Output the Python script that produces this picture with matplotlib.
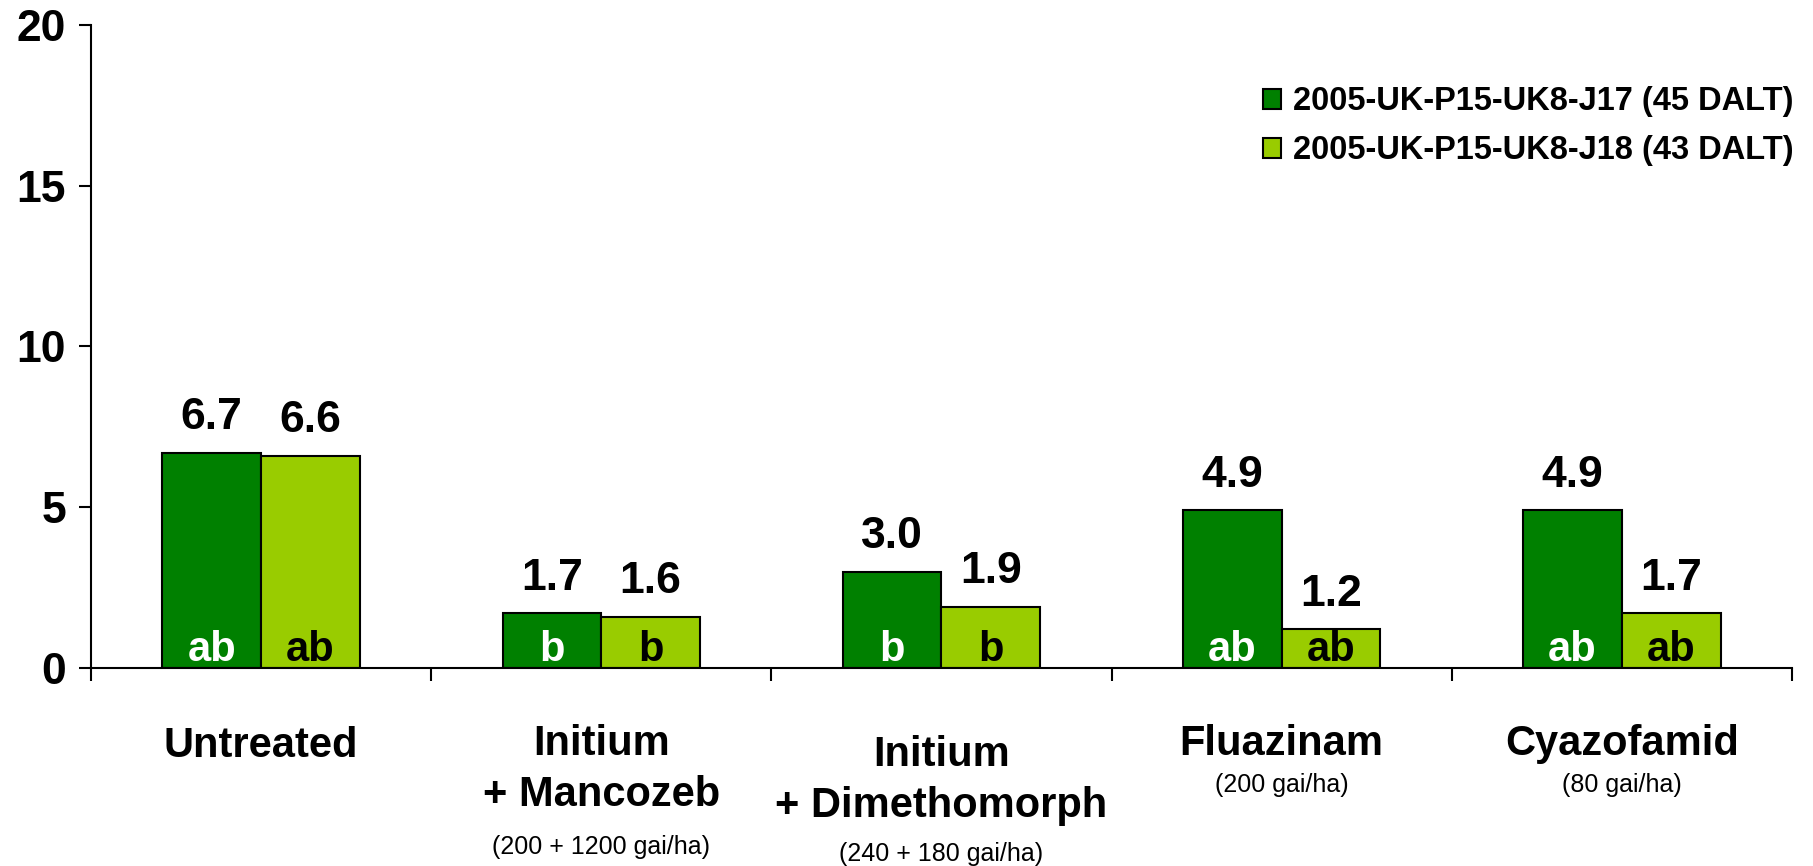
import matplotlib.pyplot as plt
import numpy as np

# data
treatments = ['Untreated', 'Initium\n+ Mancozeb', 'Initium\n+ Dimethomorph', 'Fluazinam', 'Cyazofamid']
doses = ['', '(200 + 1200 gai/ha)', '(240 + 180 gai/ha)', '(200 gai/ha)', '(80 gai/ha)']
j17 = [6.7, 1.7, 3.0, 4.9, 4.9]
j18 = [6.6, 1.6, 1.9, 1.2, 1.7]
j17_letters = ['ab', 'b', 'b', 'ab', 'ab']
j18_letters = ['ab', 'b', 'b', 'ab', 'ab']
series_names = ['2005-UK-P15-UK8-J17 (45 DALT)', '2005-UK-P15-UK8-J18 (43 DALT)']

plt.rcParams['font.family'] = ['Liberation Sans', 'DejaVu Sans']

dark = '#008000'
light = '#99cc00'

fig = plt.figure(figsize=(18.13, 8.66), dpi=100)
ax = fig.add_axes([0.0502, 0.2286, 0.9382, 0.7426])

x = np.arange(len(treatments))
w = 0.29
b1 = ax.bar(x - w / 2, j17, w, color=dark, edgecolor='black', linewidth=1.5, label=series_names[0])
b2 = ax.bar(x + w / 2, j18, w, color=light, edgecolor='black', linewidth=1.5, label=series_names[1])

for bars, vals, letters, lc in [(b1, j17, j17_letters, 'white'), (b2, j18, j18_letters, 'black')]:
    for rect, v, let in zip(bars, vals, letters):
        cx = rect.get_x() + rect.get_width() / 2
        ax.annotate(f'{v:.1f}', (cx, v), xytext=(0, 17), textcoords='offset points',
                    ha='center', va='baseline', fontsize=32, fontweight='bold')
        ax.annotate(let, (cx, 0), xytext=(0, 5), textcoords='offset points',
                    ha='center', va='baseline', fontsize=30, fontweight='bold', color=lc)

ax.set_xlim(-0.5, len(treatments) - 0.5)
ax.set_ylim(0, 20)
ax.set_yticks([0, 5, 10, 15, 20])
ax.set_xticks(np.arange(len(treatments) + 1) - 0.5)
ax.set_xticklabels([])
ax.tick_params(axis='y', length=9, width=1.5, labelsize=32, pad=9)
ax.tick_params(axis='x', length=9, width=1.5)
for lab in ax.get_yticklabels():
    lab.set_fontweight('heavy')
for s in ['top', 'right']:
    ax.spines[s].set_visible(False)
for s in ['left', 'bottom']:
    ax.spines[s].set_linewidth(1.5)

# category labels below the axis (offsets in points)
main_off = [-56, -53, -61, -55, -55]
dose_off = [0, -129, -134, -84, -84]
for i, (t, d) in enumerate(zip(treatments, doses)):
    ax.annotate(t, (i, 0), xycoords=('data', 'axes fraction'), xytext=(0, main_off[i] - (20 if '\n' in t else 0)),
                textcoords='offset points', ha='center', va='center', fontsize=30,
                fontweight='bold', linespacing=1.35)
    if d:
        ax.annotate(d, (i, 0), xycoords=('data', 'axes fraction'), xytext=(0, dose_off[i]),
                    textcoords='offset points', ha='center', va='center', fontsize=18)

leg = ax.legend(loc='upper right', bbox_to_anchor=(1.018, 0.95), frameon=False,
                prop={'size': 23.5, 'weight': 'bold'}, handlelength=0.55, handleheight=0.55,
                handletextpad=0.35, labelspacing=0.55)

fig.savefig('out.png', dpi=100)
